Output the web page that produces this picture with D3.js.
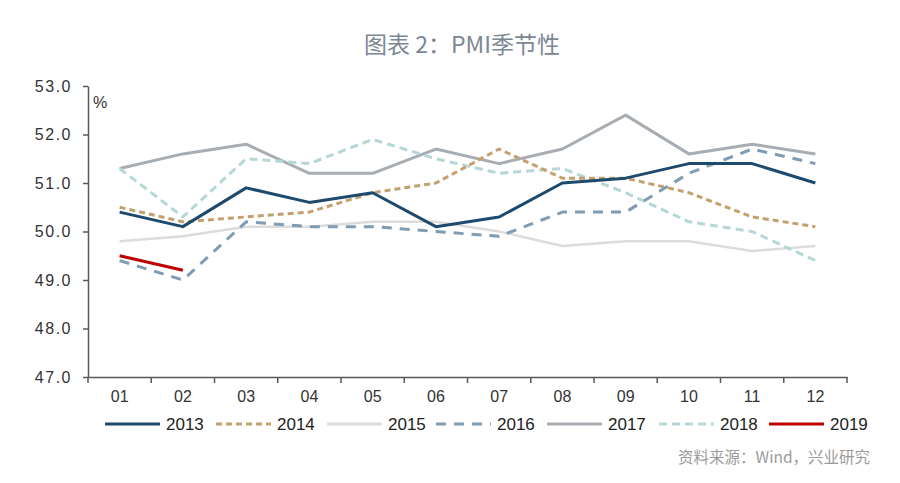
<!DOCTYPE html>
<html><head><meta charset="utf-8">
<script src="https://cdn.jsdelivr.net/npm/d3@7"></script>
<style>body{margin:0;background:#fff}svg{display:block}</style>
</head><body><svg id="c" width="900" height="483"></svg>
<script>
const months = ["01","02","03","04","05","06","07","08","09","10","11","12"];
const yTicks = [47,48,49,50,51,52,53];
const years = ["2013","2014","2015","2016","2017","2018","2019"];
const v2013 = [50.4,50.1,50.9,50.6,50.8,50.1,50.3,51.0,51.1,51.4,51.4,51.0];
const v2014 = [50.5,50.2,50.3,50.4,50.8,51.0,51.7,51.1,51.1,50.8,50.3,50.1];
const v2015 = [49.8,49.9,50.1,50.1,50.2,50.2,50.0,49.7,49.8,49.8,49.6,49.7];
const v2016 = [49.4,49.0,50.2,50.1,50.1,50.0,49.9,50.4,50.4,51.2,51.7,51.4];
const v2017 = [51.3,51.6,51.8,51.2,51.2,51.7,51.4,51.7,52.4,51.6,51.8,51.6];
const v2018 = [51.3,50.3,51.5,51.4,51.9,51.5,51.2,51.3,50.8,50.2,50.0,49.4];
const v2019 = [49.5,49.2];

const seriesVals = [v2013,v2014,v2015,v2016,v2017,v2018,v2019];
const styles = [
  {c:"#1d4a6e",w:3,d:null},
  {c:"#c4a06e",w:3,d:"6,4"},
  {c:"#dcdcdc",w:2.5,d:null},
  {c:"#7f9cb3",w:3,d:"10,8"},
  {c:"#a7adb3",w:3,d:null},
  {c:"#b5d7d7",w:3,d:"8,5"},
  {c:"#c00000",w:3,d:null}
];
const LAT = "Liberation Sans, Arial, sans-serif";
const CJK = "Noto Sans CJK SC, Noto Sans, sans-serif";

const svg = d3.select("#c");
const x = d3.scaleBand().domain(months).range([88,847]);
const y = d3.scaleLinear().domain([47,53]).range([377,86]);

svg.append("text").attr("x",462).attr("y",53).attr("text-anchor","middle").attr("font-family",CJK)
  .attr("font-size",23).attr("fill","#7b8794").text("图表 2：PMI季节性");

const gy = svg.append("g").attr("transform","translate(88,0)")
  .call(d3.axisLeft(y).tickValues(yTicks).tickFormat(d3.format(".1f")).tickSize(5).tickSizeOuter(0));
const gx = svg.append("g").attr("transform","translate(0,377)")
  .call(d3.axisBottom(x).tickSize(0).tickPadding(14));
gx.selectAll(".bnd").data(months.concat(["end"])).enter().append("line")
  .attr("x1",(d,i)=>88+i*x.step()).attr("x2",(d,i)=>88+i*x.step())
  .attr("y1",0).attr("y2",6).attr("stroke","#595959").attr("stroke-width",1.5);
[gx,gy].forEach(g=>{
  g.attr("font-family",LAT).attr("font-size",16);
  g.selectAll("path,line").attr("stroke","#595959").attr("stroke-width",1.5);
  g.selectAll("text").attr("fill","#333");
});
gy.selectAll("text").attr("dx",-8).attr("letter-spacing",1.5);

svg.append("text").attr("x",93).attr("y",108).attr("font-size",16).attr("fill","#333")
  .attr("font-family",LAT).text("%");

const line = d3.line().x((d,i)=>x(months[i])+x.bandwidth()/2).y(d=>y(d));
const order = [2,4,5,1,3,0,6];
order.forEach(k=>{
  svg.append("path").datum(seriesVals[k]).attr("d",line).attr("fill","none")
    .attr("stroke",styles[k].c).attr("stroke-width",styles[k].w)
    .attr("stroke-dasharray",styles[k].d).attr("stroke-linejoin","round");
});

const legX = [105,216,327,436,547,659,769];
const lg = svg.append("g");
years.forEach((yr,k)=>{
  lg.append("line").attr("x1",legX[k]).attr("x2",legX[k]+55).attr("y1",424).attr("y2",424)
    .attr("stroke",styles[k].c).attr("stroke-width",3).attr("stroke-dasharray",styles[k].d);
  lg.append("text").attr("x",legX[k]+61).attr("y",430).attr("font-size",17).attr("fill","#222")
    .attr("font-family",LAT).text(yr);
});

svg.append("text").attr("x",870).attr("y",463).attr("text-anchor","end").attr("font-size",15.5)
  .attr("font-family",CJK).attr("fill","#9a9a9a").text("资料来源：Wind，兴业研究");
</script></body></html>
